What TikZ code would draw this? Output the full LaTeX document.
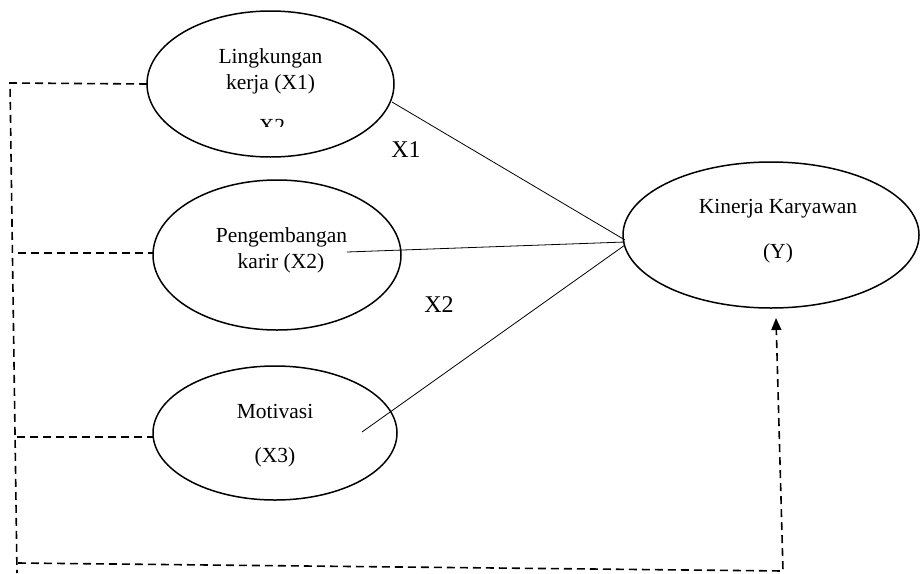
\documentclass[tikz,border=0pt]{standalone}
\usepackage{fontspec}
\setmainfont{Liberation Serif}
\usetikzlibrary{arrows.meta,shapes.geometric}
\begin{document}
\begin{tikzpicture}[x=1pt,y=-1pt,
  var/.style={draw, ellipse, line width=1.5pt, inner sep=0pt, outer sep=0pt},
  lbl/.style={font=\fontsize{21.5}{24}\selectfont, anchor=base, inner sep=0pt},
  biglbl/.style={font=\fontsize{24}{28}\selectfont, anchor=base, inner sep=0pt},
  path1/.style={line width=0.8pt},
  dsh/.style={line width=1.6pt, dash pattern=on 8pt off 5pt}]
\useasboundingbox (0,0) rectangle (920,573);
% ellipses
\node[var, minimum width=247pt, minimum height=146pt] (e1) at (270.5,84) {};
\node[var, minimum width=248pt, minimum height=150pt] (e2) at (277,255) {};
\node[var, minimum width=244pt, minimum height=134pt] (e3) at (275,433) {};
\node[var, minimum width=296pt, minimum height=146pt] (ey) at (771,235) {};
% texts
\node[lbl] (t1a) at (270.5,63) {Lingkungan};
\node[lbl] (t1b) at (270.5,89) {kerja (X1)};
\begin{scope}
\clip (200,100) rectangle (340,126.5);
\node[lbl] (t1c) at (272,133) {X2};
\end{scope}
\node[lbl] (t2a) at (281.5,242) {Pengembangan};
\node[lbl] (t2b) at (281,268) {karir (X2)};
\node[lbl] (t3a) at (275,418) {Motivasi};
\node[lbl] (t3b) at (275,462) {(X3)};
\node[lbl] (tya) at (778,213) {Kinerja Karyawan};
\node[lbl] (tyb) at (778,258) {(Y)};
\node[biglbl] (lx1) at (406,157) {X1};
\node[biglbl] (lx2) at (439,312) {X2};
% solid connectors
\coordinate (s1) at (392,102);
\coordinate (s2) at (347,252);
\coordinate (s3) at (362,432);
\coordinate (y1) at (625,240);
\coordinate (y2) at (625,242);
\coordinate (y3) at (625,245);
\draw[path1] (s1) -- (y1);
\draw[path1] (s2) -- (y2);
\draw[path1] (s3) -- (y3);
% dashed connectors
\coordinate (c1) at (10,83);
\coordinate (cb) at (17,573);
\coordinate (c2) at (18,253);
\coordinate (c3) at (17,437);
\coordinate (d1) at (18,563);
\coordinate (d2) at (783,571);
\coordinate (ta) at (776,318);
\draw[dsh] (e1.west) -- (c1) -- (cb);
\draw[dsh] (c2) -- (e2.west |- c2);
\draw[dsh] (c3) -- (e3.west |- c3);
\draw[dsh, -{Triangle[length=12pt,width=10pt]}] (d1) -- (d2) -- (ta);
\end{tikzpicture}
\end{document}
